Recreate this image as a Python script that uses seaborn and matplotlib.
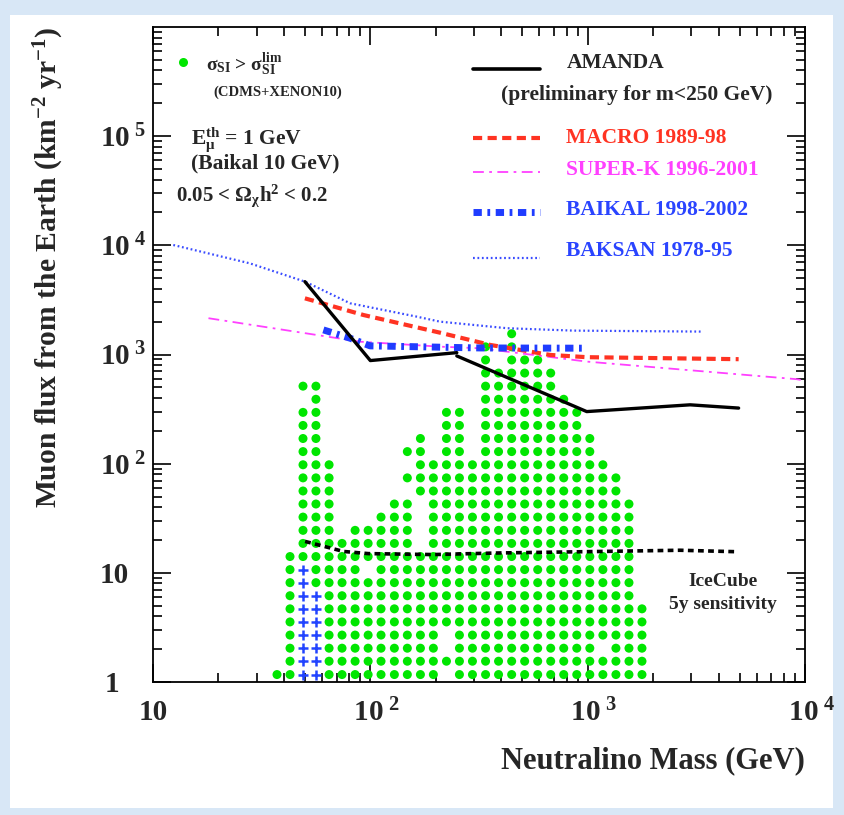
import pandas as pd
import seaborn as sns
import matplotlib.pyplot as plt
from matplotlib.patches import Rectangle
from matplotlib.transforms import ScaledTranslation
from matplotlib.ticker import NullFormatter, LogLocator

# scan grid: column masses (GeV) and row fluxes (km^-2 yr^-1)
dot_mass = [37.2, 42.7, 49.0, 56.2, 64.6, 74.1, 85.1, 97.7, 112, 129, 148, 170, 195, 224,
            257, 295, 339, 389, 447, 513, 589, 676, 776, 891, 1023, 1175, 1349, 1549, 1778]
dot_flux = [1.17, 1.55, 2.04, 2.69, 3.55, 4.68, 6.17, 8.13, 10.7, 14.1, 18.6, 24.5, 32.4, 42.7,
            56.2, 74.1, 97.7, 129, 170, 224, 295, 389, 513, 676, 891, 1175, 1549]
# highest filled row for each mass column
col_top = [0, 9, 22, 22, 16, 10, 11, 11, 12, 13, 17, 18, 16, 20, 20, 16, 25, 23, 26, 24,
           24, 23, 21, 20, 18, 16, 15, 13, 5]
# empty cells (column, row)
missing = [(2, 21), (7, 8), (10, 14), (10, 16), (11, 10), (11, 11), (11, 12), (11, 13),
           (13, 0), (13, 2), (13, 3), (25, 2)]
# columns drawn with blue crosses up to this row
cross_top = {2: 8, 3: 6}

amanda_lo_mass = [50, 100, 250]
amanda_lo_flux = [4650, 880, 1040]
amanda_hi_mass = [250, 990, 2960, 4950]
amanda_hi_flux = [970, 300, 346, 323]
macro_mass = [50, 93, 209, 356, 671, 991, 4950]
macro_flux = [3270, 2300, 1585, 1224, 991, 945, 906]
superk_mass = [18, 56.6, 89.8, 209, 320, 991, 9160, 10000]
superk_flux = [2150, 1510, 1310, 1180, 1140, 861, 594, 575]
baikal_mass = [60.8, 80.7, 99.7, 320, 991]
baikal_flux = [1680, 1410, 1200, 1148, 1142]
baksan_mass = [12.4, 27.9, 50.1, 80.7, 163.5, 209, 425, 859, 3400]
baksan_flux = [10070, 6840, 4645, 2946, 2222, 2000, 1741, 1655, 1621]
icecube_mass = [50.1, 75.2, 97.9, 195, 388, 2660, 4920]
icecube_flux = [19.4, 15.7, 15.0, 14.7, 15.2, 16.1, 15.6]

x_ticks = [10, 100, 1000, 10000]
x_tick_labels = ['10', r'$\ \:10^{\ 2}$', r'$\ \:10^{\ 3}$', r'$\ \:10^{\ 4}$']
y_ticks = [1, 10, 100, 1000, 10000, 100000]
y_tick_labels = ['1', '10', r'$10^{\ 2}$', r'$10^{\ 3}$', r'$10^{\ 4}$', r'$10^{\ 5}$']

sns.set_style('ticks')
plt.rcParams['font.family'] = ['Liberation Serif', 'DejaVu Serif']
plt.rcParams['font.weight'] = 'bold'
plt.rcParams['mathtext.fontset'] = 'custom'
plt.rcParams['mathtext.rm'] = 'Liberation Serif:bold'
plt.rcParams['mathtext.it'] = 'Liberation Serif:italic:bold'
plt.rcParams['mathtext.bf'] = 'Liberation Serif:bold'

cells = []
for i, m in enumerate(dot_mass):
    for j in range(col_top[i] + 1):
        if (i, j) in missing:
            continue
        kind = 'cross' if j <= cross_top.get(i, -1) else 'dot'
        cells.append({'mass': m, 'flux': dot_flux[j], 'kind': kind})
grid = pd.DataFrame(cells)

fig = plt.figure(figsize=(8.45, 8.15), dpi=100, facecolor='#d8e7f6')
fig.patches.append(Rectangle((0.012, 0.009), 0.974, 0.972, transform=fig.transFigure,
                             facecolor='white', edgecolor='none', zorder=-10))
ax = fig.add_axes([153 / 845, 133 / 815, 652 / 845, 655 / 815])
ax.set_zorder(1)
ax.set_xscale('log')
ax.set_yscale('log')

sns.scatterplot(data=grid[grid['kind'] == 'dot'], x='mass', y='flux', color='#00e600',
                s=42, edgecolor='none', ax=ax, zorder=2)
sns.scatterplot(data=grid[grid['kind'] == 'cross'], x='mass', y='flux', color='#2244ff',
                marker='+', s=60, linewidth=1.8, ax=ax, zorder=2)

def curve(xs, ys, **kw):
    sns.lineplot(x=xs, y=ys, sort=False, estimator=None, ax=ax, zorder=3, **kw)

curve(baksan_mass, baksan_flux, color='#3a4cff', linewidth=1.6, linestyle=(0, (0.8, 1.2)))
curve(superk_mass, superk_flux, color='#ff40ff', linewidth=1.3, linestyle=(0, (6, 3, 1.5, 3)))
curve(macro_mass, macro_flux, color='#ff3322', linewidth=3, linestyle=(0, (2.2, 1.3)))
curve(baikal_mass, baikal_flux, color='#1f3cff', linewidth=5, linestyle=(0, (1.2, 0.8, 0.4, 0.8)))
curve(amanda_lo_mass, amanda_lo_flux, color='black', linewidth=2.4)
curve(amanda_hi_mass, amanda_hi_flux, color='black', linewidth=2.4)
curve(icecube_mass, icecube_flux, color='black', linewidth=2.6, linestyle=(0, (1.6, 1.2)))

ax.set_xlim(10, 10000)
ax.set_ylim(1, 1e6)
ax.set_xticks(x_ticks)
ax.set_xticklabels(x_tick_labels)
ax.set_yticks(y_ticks)
ax.set_yticklabels(y_tick_labels)
ax.xaxis.set_minor_locator(LogLocator(base=10, subs=range(2, 10), numticks=20))
ax.yaxis.set_minor_locator(LogLocator(base=10, subs=range(2, 10), numticks=20))
ax.xaxis.set_minor_formatter(NullFormatter())
ax.yaxis.set_minor_formatter(NullFormatter())
ax.tick_params(which='both', direction='in', top=True, right=True, width=1.2, color='black')
ax.tick_params(which='major', length=13, labelsize=21)
ax.tick_params(which='minor', length=6.5)
ax.tick_params(axis='x', which='major', pad=12)
ax.tick_params(axis='y', which='major', pad=5)
for sp in ax.spines.values():
    sp.set_linewidth(1.3)
    sp.set_color('black')

# plain "1" and "10" sit further left, as in the original frame
for lab, shift in zip(ax.get_yticklabels()[:2], [0.27, 0.17]):
    lab.set_transform(lab.get_transform() + ScaledTranslation(-shift, 0, fig.dpi_scale_trans))

ax.set_xlabel('Neutralino Mass (GeV)', fontsize=22, fontweight='bold', loc='right', labelpad=14)
ax.set_ylabel(r'Muon flux from the Earth (km$^{-2}$ yr$^{-1}$)', fontsize=21.3,
              fontweight='bold', loc='top', labelpad=24)

# legend, drawn in axes fraction
tr = ax.transAxes
x0, x1, xt = 0.491, 0.593, 0.634
ax.plot([x0, x1], [0.936, 0.936], transform=tr, color='black', linewidth=2.6)
ax.text(xt, 0.945, 'AMANDA', transform=tr, fontsize=15.5, va='center')
ax.text(0.533, 0.896, '(preliminary for m<250 GeV)', transform=tr, fontsize=15.5, va='center')
ax.plot([x0, x1], [0.831, 0.831], transform=tr, color='#ff3322', linewidth=3,
        linestyle=(0, (2.2, 1.3)))
ax.text(xt, 0.830, 'MACRO 1989-98', transform=tr, fontsize=15.5, va='center', color='#ff3322')
ax.plot([x0, x1], [0.779, 0.779], transform=tr, color='#ff40ff', linewidth=1.3,
        linestyle=(0, (6, 3, 1.5, 3)))
ax.text(xt, 0.782, 'SUPER-K 1996-2001', transform=tr, fontsize=15.5, va='center', color='#ff40ff')
ax.plot([x0, x1], [0.718, 0.718], transform=tr, color='#1f3cff', linewidth=5,
        linestyle=(0, (1.2, 0.8, 0.4, 0.8)))
ax.text(xt, 0.721, 'BAIKAL 1998-2002', transform=tr, fontsize=15.5, va='center', color='#2a44ff')
ax.plot([x0, x1], [0.648, 0.648], transform=tr, color='#3a4cff', linewidth=1.6,
        linestyle=(0, (0.8, 1.2)))
ax.text(xt, 0.658, 'BAKSAN 1978-95', transform=tr, fontsize=15.5, va='center', color='#2a44ff')

ax.plot([0.0465], [0.946], transform=tr, marker='o', color='#00e600', markersize=6.5,
        markeredgewidth=0)
ax.text(0.082, 0.942, r'σ$_{\mathrm{SI}}$ > σ$_{\mathrm{SI}}^{\mathrm{lim}}$', transform=tr,
        fontsize=14, va='center')
ax.text(0.092, 0.900, '(CDMS+XENON10)', transform=tr, fontsize=10.5, va='center')
ax.text(0.058, 0.828, r'E$_{\mathrm{\mu}}^{\mathrm{th}}$ = 1 GeV', transform=tr, fontsize=15.5,
        va='center')
ax.text(0.058, 0.792, '(Baikal 10 GeV)', transform=tr, fontsize=15.5, va='center')
ax.text(0.036, 0.743, r'0.05 < Ω$_{\mathrm{\chi}}$h$^{2}$ < 0.2', transform=tr, fontsize=15,
        va='center')
ax.text(0.8735, 0.153, 'IceCube', transform=tr, fontsize=14, ha='center', va='center')
ax.text(0.8735, 0.118, '5y sensitivity', transform=tr, fontsize=14, ha='center', va='center')

fig.savefig('out.png', dpi=100, facecolor=fig.get_facecolor())
